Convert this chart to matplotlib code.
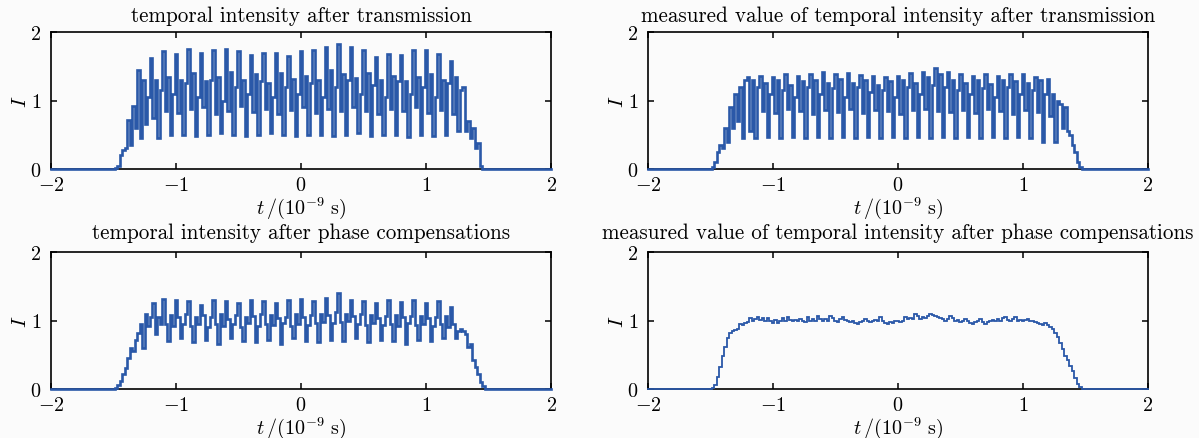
import numpy as np
import matplotlib
matplotlib.use("Agg")
import matplotlib.pyplot as plt

plt.rcParams['font.family'] = ['cmr10', 'DejaVu Serif']
plt.rcParams['mathtext.fontset'] = 'cm'
plt.rcParams['axes.formatter.use_mathtext'] = True
plt.rcParams['axes.unicode_minus'] = False

# ---------------- data ----------------
# sample grid (ns), outside of it the intensity is 0
t_start, t_stop, n_samples = -1.5, 1.5, 151

# top-left: temporal intensity after transmission
tl_rise = [0, 0.02, 0.04, 0.2, 0.28, 0.3, 0.72, 0.35, 0.92, 0.6,
           1.45, 0.45, 1.3, 0.65, 1.05, 1.62, 0.75, 1.3, 0.45, 1.15]
tl_body = [
    [1.72, 0.85, 1.35, 0.5, 1.1], [1.68, 0.82, 1.3, 0.5, 1.25],
    [1.75, 0.88, 1.4, 0.48, 1.05], [1.7, 0.9, 1.28, 0.5, 1.3],
    [1.73, 0.8, 1.35, 0.52, 1.0], [1.75, 0.85, 1.42, 0.5, 1.2],
    [1.72, 0.92, 1.3, 0.48, 1.1], [1.66, 0.83, 1.38, 0.5, 1.28],
    [1.7, 0.88, 1.25, 0.52, 1.05], [1.7, 0.8, 1.4, 0.5, 1.2],
    [1.65, 0.86, 1.32, 0.48, 1.1], [1.72, 0.9, 1.36, 0.5, 1.25],
    [1.73, 0.82, 1.3, 0.5, 1.05], [1.78, 0.88, 1.45, 0.48, 1.2],
    [1.83, 0.85, 1.38, 0.5, 1.3], [1.78, 0.9, 1.33, 0.52, 1.1],
    [1.73, 0.84, 1.4, 0.48, 1.22], [1.64, 0.8, 1.3, 0.5, 1.05],
    [1.68, 0.88, 1.36, 0.5, 1.28], [1.66, 0.85, 1.28, 0.46, 1.1],
    [1.73, 0.9, 1.35, 0.5, 1.2], [1.73, 0.82, 1.38, 0.48, 1.05],
    [1.68, 0.86, 1.3, 0.5, 1.25], [1.58, 0.8, 1.35, 0.55, 1.15]]
tl_fall = [1.2, 0.55, 0.7, 0.45, 0.6, 0.3, 0.38, 0.05, 0.0, 0.0, 0.0]

# top-right: measured value after transmission
tr_rise = [0, 0.03, 0.1, 0.25, 0.35, 0.3, 0.6, 0.4, 0.9, 0.6,
           1.1, 0.7, 1.2, 0.45, 1.3, 1.35, 0.55, 1.3, 0.45, 1.2]
tr_body = [
    [1.36, 0.85, 1.25, 0.46, 1.1], [1.35, 0.82, 1.3, 0.45, 1.15],
    [1.38, 0.88, 1.22, 0.47, 1.05], [1.36, 0.84, 1.28, 0.45, 1.2],
    [1.38, 0.8, 1.3, 0.46, 1.1], [1.42, 0.86, 1.25, 0.45, 1.18],
    [1.38, 0.83, 1.32, 0.47, 1.05], [1.4, 0.88, 1.26, 0.45, 1.2],
    [1.37, 0.82, 1.3, 0.46, 1.12], [1.36, 0.86, 1.22, 0.45, 1.15],
    [1.35, 0.84, 1.28, 0.47, 1.05], [1.36, 0.8, 1.3, 0.45, 1.2],
    [1.4, 0.86, 1.26, 0.46, 1.1], [1.42, 0.88, 1.35, 0.45, 1.22],
    [1.48, 0.85, 1.38, 0.47, 1.2], [1.42, 0.83, 1.3, 0.45, 1.15],
    [1.38, 0.86, 1.26, 0.46, 1.1], [1.36, 0.82, 1.3, 0.45, 1.18],
    [1.38, 0.88, 1.24, 0.47, 1.05], [1.36, 0.84, 1.3, 0.45, 1.2],
    [1.38, 0.8, 1.28, 0.46, 1.1], [1.38, 0.86, 1.25, 0.45, 1.15],
    [1.35, 0.83, 1.3, 0.4, 1.1], [1.32, 0.78, 1.1, 0.4, 1.0]]
tr_fall = [0.95, 0.6, 0.9, 0.55, 0.5, 0.35, 0.25, 0.1, 0.03, 0.0, 0.0]

# bottom-left: temporal intensity after phase compensations
bl_rise = [0, 0.02, 0.06, 0.12, 0.22, 0.3, 0.45, 0.6, 0.55, 0.72,
           0.82, 0.95, 0.6, 1.1, 0.92, 1.05, 1.25, 0.8, 1.05, 0.95]
bl_body = [
    [1.32, 0.95, 0.7, 1.08, 0.92], [1.3, 1.05, 0.75, 0.95, 1.1],
    [1.28, 0.92, 0.68, 1.05, 0.95], [1.22, 1.08, 0.72, 0.9, 1.05],
    [1.3, 0.95, 0.66, 1.1, 0.92], [1.28, 1.02, 0.74, 0.95, 1.08],
    [1.25, 0.9, 0.7, 1.05, 0.97], [1.3, 1.06, 0.68, 0.92, 1.1],
    [1.28, 0.95, 0.72, 1.08, 0.93], [1.25, 1.04, 0.66, 0.96, 1.05],
    [1.3, 0.92, 0.74, 1.1, 0.95], [1.32, 1.05, 0.7, 0.93, 1.08],
    [1.28, 0.96, 0.68, 1.1, 0.98], [1.33, 1.08, 0.72, 0.97, 1.12],
    [1.4, 0.98, 0.7, 1.1, 1.0], [1.3, 1.06, 0.74, 0.95, 1.1],
    [1.28, 0.93, 0.68, 1.08, 0.96], [1.25, 1.04, 0.72, 0.94, 1.06],
    [1.3, 0.95, 0.7, 1.08, 0.92], [1.27, 1.05, 0.66, 0.96, 1.07],
    [1.3, 0.93, 0.72, 1.06, 0.95], [1.25, 1.03, 0.7, 0.92, 1.05],
    [1.28, 0.95, 0.74, 1.06, 0.9], [1.2, 0.95, 0.75, 0.85, 0.88]]
bl_fall = [0.85, 0.8, 0.62, 0.65, 0.42, 0.32, 0.22, 0.1, 0.04, 0.0, 0.0]

# bottom-right: measured value after phase compensations
br_values = [
    0.0, 0.02, 0.06, 0.18, 0.32, 0.48, 0.62, 0.74, 0.82, 0.84,
    0.86, 0.88, 0.95, 0.93, 0.96, 0.98, 1.04, 0.99, 1.02, 1.05,
    1.01, 1.03, 1.0, 1.03, 1.0, 0.97, 1.01, 0.96, 1.0, 1.03,
    1.0, 1.05, 1.01, 1.0, 1.01, 1.0, 1.02, 0.99, 0.98, 1.05,
    1.0, 1.02, 1.0, 1.07, 1.02, 1.0, 1.02, 1.0, 1.07, 1.03,
    0.99, 0.98, 1.02, 1.05, 1.01, 1.0, 0.98, 0.99, 0.96, 0.95,
    0.98, 1.0, 1.02, 0.99, 0.98, 1.0, 1.01, 1.0, 1.05, 1.0,
    0.97, 0.95, 0.98, 0.97, 1.0, 1.0, 0.98, 1.0, 1.05, 1.02,
    1.03, 1.02, 1.1, 1.06, 1.02, 1.05, 1.04, 1.07, 1.1, 1.08,
    1.07, 1.05, 1.03, 1.02, 1.0, 1.02, 1.06, 1.04, 1.0, 1.01,
    0.98, 0.99, 1.02, 1.0, 0.97, 0.95, 0.98, 1.0, 1.02, 0.98,
    0.95, 0.98, 1.0, 1.01, 1.0, 1.02, 1.0, 1.03, 1.05, 1.01,
    1.0, 1.02, 1.05, 1.0, 1.01, 1.0, 1.01, 1.02, 1.0, 0.99,
    0.98, 0.96, 0.95, 0.93, 0.97, 0.93, 0.9, 0.87, 0.82, 0.76,
    0.67, 0.58, 0.48, 0.42, 0.33, 0.26, 0.16, 0.08, 0.03, 0.0,
    0.0]

titles = ["temporal intensity after transmission",
          "measured value of temporal intensity after transmission",
          "temporal intensity after phase compensations",
          "measured value of temporal intensity after phase compensations"]
x_ticks = [-2, -1, 0, 1, 2]
x_tick_labels = [r"$-2$", r"$-1$", r"$0$", r"$1$", r"$2$"]
y_ticks = [0, 1, 2]
y_tick_labels = [r"$0$", r"$1$", r"$2$"]
x_label = r"$t\,/(10^{-9}\ \mathrm{s})$"
y_label = r"$I$"


def assemble(rise, body, fall):
    vals = list(rise)
    for period in body:
        vals.extend(period)
    vals.extend(fall)
    return np.array(vals, dtype=float)


series = [assemble(tl_rise, tl_body, tl_fall),
          assemble(tr_rise, tr_body, tr_fall),
          assemble(bl_rise, bl_body, bl_fall),
          np.array(br_values, dtype=float)]

t_grid = np.linspace(t_start, t_stop, n_samples)

# ---------------- figure ----------------
W, H = 1199, 439
fig = plt.figure(figsize=(W / 100, H / 100), dpi=100)
bg = "#fbfbfb"
fig.patch.set_facecolor(bg)

lefts = [51 / W, 648 / W]
bottoms = [1 - 170 / H, 1 - 390 / H]
aw, ah = 500 / W, 137 / H
line_color = "#2a58a8"
line_widths = [1.9, 1.9, 1.9, 1.3]

for i, vals in enumerate(series):
    r, c = divmod(i, 2)
    ax = fig.add_axes([lefts[c], bottoms[r], aw, ah])
    ax.set_facecolor(bg)
    n = min(len(vals), len(t_grid))
    tt = np.concatenate([[-2.0], t_grid[:n], [2.0]])
    yy = np.concatenate([[0.0], vals[:n], [0.0]])
    ax.plot(tt, yy, drawstyle="steps-mid", color=line_color,
            lw=line_widths[i], clip_on=False, zorder=3,
            solid_joinstyle="miter")
    ax.set_xlim(-2, 2)
    ax.set_ylim(0, 2)
    ax.set_xticks(x_ticks)
    ax.set_xticklabels(x_tick_labels)
    ax.set_yticks(y_ticks)
    ax.set_yticklabels(y_tick_labels)
    ax.tick_params(direction="in", length=4.5, width=1.1, top=True, right=True,
                   labelsize=14.5, colors="black")
    ax.tick_params(axis="x", pad=5)
    ax.tick_params(axis="y", pad=7)
    for s in ax.spines.values():
        s.set_linewidth(1.2)
    ax.set_title(titles[i], fontsize=15.2, pad=8 if r == 0 else 10)
    ax.set_xlabel(x_label, fontsize=14.5, labelpad=0)
    ax.set_ylabel(y_label, fontsize=15, labelpad=0)

fig.savefig("out.png", dpi=100, facecolor=bg)
